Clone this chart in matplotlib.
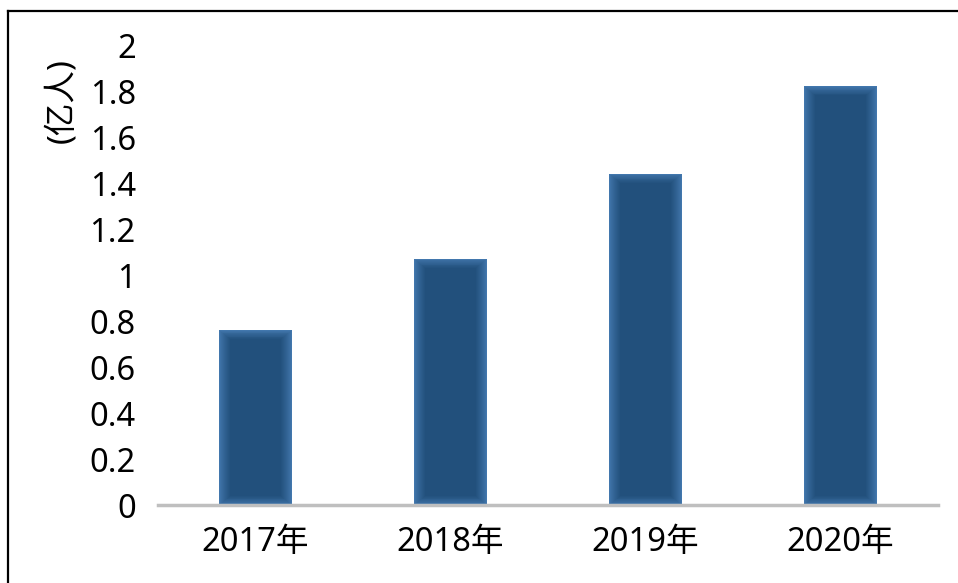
import numpy as np
import matplotlib
matplotlib.use("Agg")
import matplotlib.pyplot as plt
from matplotlib.colors import to_rgb

# -------------------------------- Data --------------------------------
YEARS = ["2017年", "2018年", "2019年", "2020年"]
VALUES = [0.76, 1.07, 1.44, 1.82]
Y_TICKS = [0, 0.2, 0.4, 0.6, 0.8, 1, 1.2, 1.4, 1.6, 1.8, 2]
Y_LABEL = "(亿人)"
# ----------------------------------------------------------------------

plt.rcParams["font.family"] = ["Noto Sans", "Noto Sans CJK SC", "DejaVu Sans"]

EDGE = np.array(to_rgb("#4277ad"))
CORE = np.array(to_rgb("#22507c"))
BAR_W = 0.375
N_LAYERS = 12

fig = plt.figure(figsize=(9.58, 5.83), dpi=100)
ax = fig.add_axes([158 / 958, 78 / 583, 780 / 958, 460 / 583])

x = np.arange(len(YEARS))
vals = np.array(VALUES)

# soft-edged bars: nested bars, lighter on the outside
px_x = 195.0   # pixels per category
px_y = 230.0   # pixels per unit value
for i in range(N_LAYERS):
    t = (i / (N_LAYERS - 1)) ** 0.8
    col = EDGE * (1 - t) + CORE * t
    dx = i / px_x
    dy = 0.8 * i / px_y
    ax.bar(x, vals - 2 * dy, bottom=dy, width=BAR_W - 2 * dx,
           color=col, linewidth=0, zorder=2 + i)

ax.set_xlim(-0.5, len(YEARS) - 0.5)
ax.set_ylim(0, 2)
ax.set_yticks(Y_TICKS)
ax.set_yticklabels([f"{v:g}" for v in Y_TICKS])
ax.set_xticks(x)
ax.set_xticklabels(YEARS)
ax.tick_params(axis="both", length=0, labelsize=23.5)
ax.tick_params(axis="y", pad=16)
ax.tick_params(axis="x", pad=15)

for s in ["top", "right", "left"]:
    ax.spines[s].set_visible(False)
ax.spines["bottom"].set_color("#bfbfbf")
ax.spines["bottom"].set_linewidth(2.5)
ax.spines["bottom"].set_zorder(20)

fig.text(62 / 958, 1 - 101 / 583, Y_LABEL, rotation=90, fontsize=23.5,
         ha="center", va="center")

# frame lines (left and top only)
fig.add_artist(plt.Line2D([7.5 / 958, 7.5 / 958], [0, 1 - 11 / 583],
                          color="black", linewidth=1.6))
fig.add_artist(plt.Line2D([7.5 / 958, 1], [1 - 11 / 583, 1 - 11 / 583],
                          color="black", linewidth=1.6))

fig.savefig("out.png", dpi=100)
